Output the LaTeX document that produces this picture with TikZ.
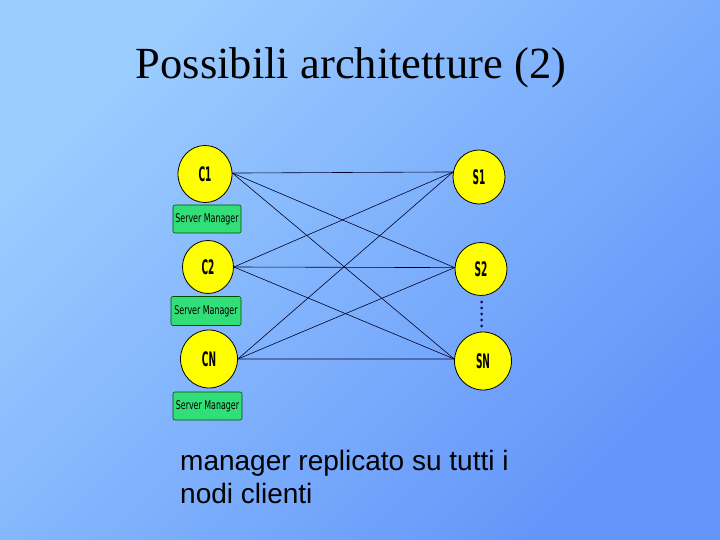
\documentclass[tikz,border=0pt]{standalone}
\usepackage{fontspec}
\setmainfont{Liberation Serif}
\newfontfamily\arialf{Liberation Sans}
\newfontfamily\dvf{DejaVu Sans}
\usetikzlibrary{shapes.geometric}
\definecolor{bglight}{RGB}{155,205,255}
\definecolor{bgdark}{RGB}{100,150,250}
\definecolor{nodeyellow}{RGB}{255,255,0}
\definecolor{smgreen}{RGB}{50,222,120}
\definecolor{dotnavy}{RGB}{10,10,80}
\tikzset{
  host/.style={ellipse, draw=black, line width=0.8bp, fill=nodeyellow, inner sep=0pt},
  smbox/.style={rectangle, rounded corners=2bp, draw=black!70!green, line width=0.6bp, fill=smgreen, inner sep=0pt},
  link/.style={draw=black!85!blue, line width=0.6bp},
}
\newcommand\hostlabel[1]{\scalebox{0.45}[1]{\dvf\bfseries\fontsize{20bp}{20bp}\selectfont #1}}
\newcommand\smlabel{\scalebox{0.66}[1]{\dvf\fontsize{12bp}{12bp}\selectfont Server Manager}}
\begin{document}
\begin{tikzpicture}[x=1bp,y=-1bp]
\useasboundingbox (0,0) rectangle (720,540);
\shade[top color=bglight, bottom color=bgdark, shading angle=45] (0,0) rectangle (720,540);

\node[anchor=base, font=\fontsize{44.5bp}{50bp}\selectfont] (title) at (351,79) {Possibili architetture (2)};

\node[host, minimum width=54bp, minimum height=57bp] (c1) at (205,174) {\hostlabel{C1}};
\node[host, minimum width=51bp, minimum height=53bp] (c2) at (208,267) {\hostlabel{C2}};
\node[host, minimum width=57bp, minimum height=58bp] (cn) at (209,359) {\hostlabel{CN}};
\node[host, minimum width=52bp, minimum height=54bp] (s1) at (479,177) {\hostlabel{S1}};
\node[host, minimum width=52bp, minimum height=53bp] (s2) at (481,269) {\hostlabel{S2}};
\node[host, minimum width=57bp, minimum height=58bp] (sn) at (483,361) {\hostlabel{SN}};

\node[smbox, minimum width=68bp, minimum height=28bp] (sm1) at (207,219) {\smlabel};
\node[smbox, minimum width=70bp, minimum height=29bp] (sm2) at (206,311) {\smlabel};
\node[smbox, minimum width=69bp, minimum height=28bp] (sm3) at (207.5,406) {\smlabel};

\coordinate (e1) at (c1.2);
\coordinate (e2) at (c2.east);
\coordinate (e3) at (cn.east);
\coordinate (w1) at (s1.169);
\coordinate (w2) at (s2.177);
\coordinate (w3) at (sn.176);

\foreach \c in {e1,e2,e3}{
  \foreach \s in {w1,w2,w3}{
    \draw[link] (\c) -- (\s);
  }
}

\foreach \k in {302,308,314,320,326}{
  \fill[dotnavy] (481.5,\k) circle (1.5bp);
}

\node[anchor=base west, font=\arialf\fontsize{28bp}{33.6bp}\selectfont, inner sep=0pt] (cap1) at (180,470) {manager replicato su tutti i};
\node[anchor=base west, font=\arialf\fontsize{28bp}{33.6bp}\selectfont, inner sep=0pt] (cap2) at (180,503) {nodi clienti};
\end{tikzpicture}
\end{document}
